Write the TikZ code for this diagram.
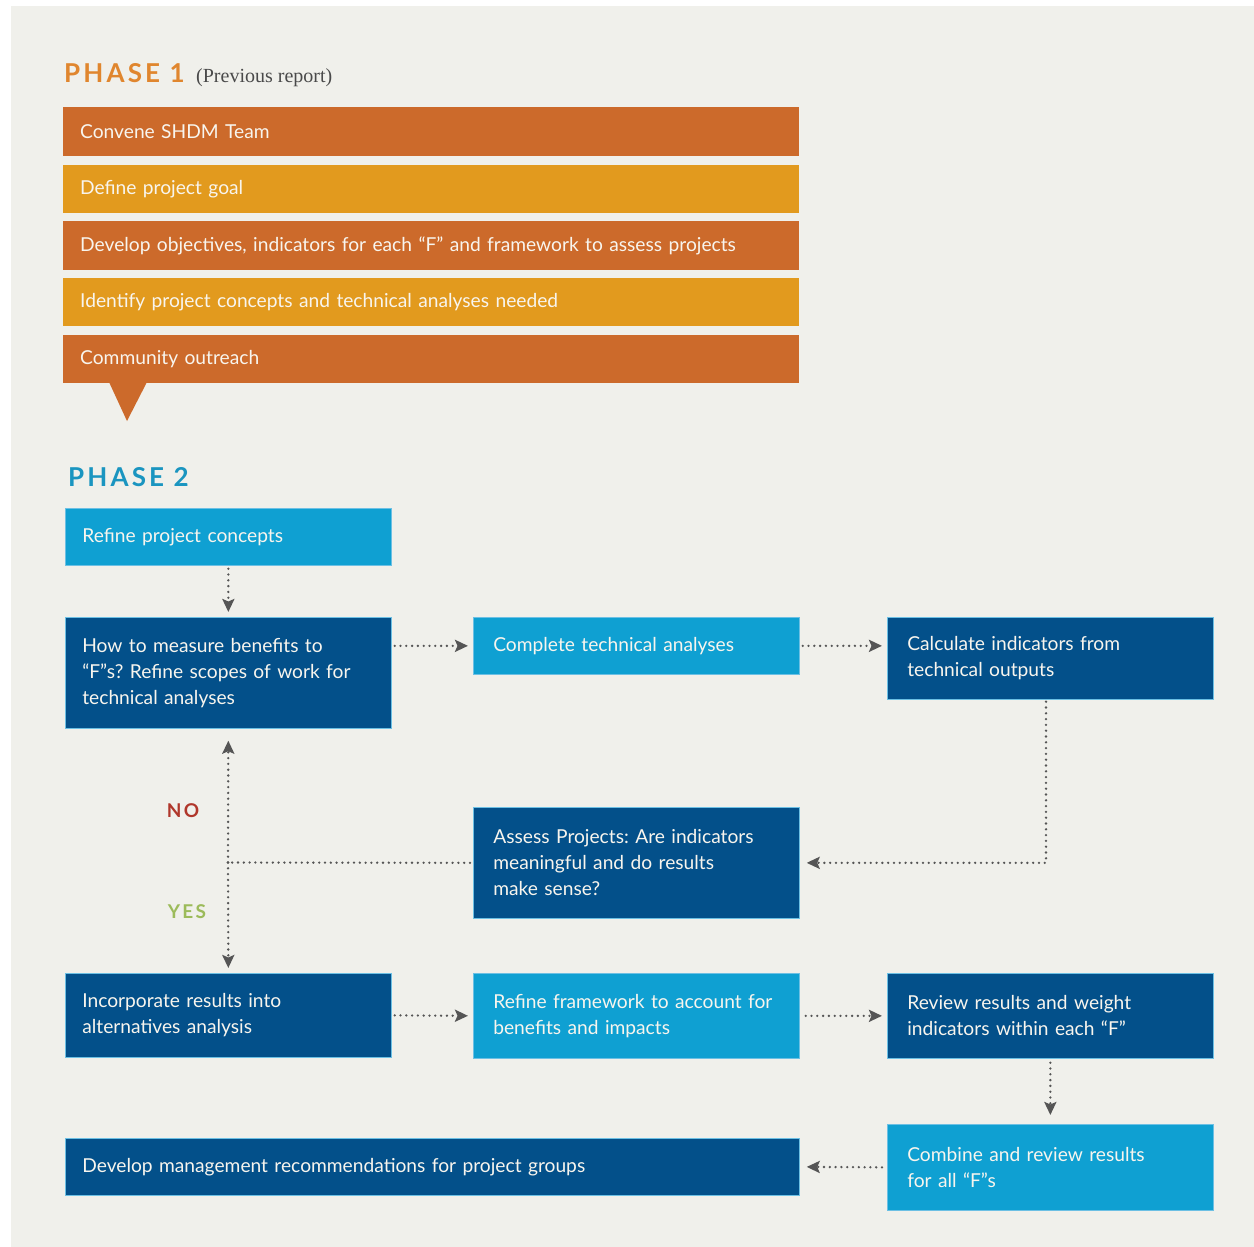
\documentclass[tikz,border=0pt]{standalone}
\usepackage{fontspec}
\setmainfont{Lato}
\newfontfamily\serifont{Liberation Serif}
\newfontfamily\phasefont{Lato}[LetterSpace=12]
\usetikzlibrary{arrows.meta,calc}
\definecolor{bg}{HTML}{F0F0EB}
\definecolor{dorange}{HTML}{CC6A2B}
\definecolor{yorange}{HTML}{E29A1E}
\definecolor{lblue}{HTML}{0FA0D2}
\definecolor{dblue}{HTML}{03508A}
\definecolor{edgeblue}{HTML}{6CC0E4}
\definecolor{ph1}{HTML}{E0862E}
\definecolor{ph2}{HTML}{1A95C0}
\definecolor{nored}{HTML}{B0372B}
\definecolor{yesgreen}{HTML}{9CBB5A}
\definecolor{agray}{HTML}{555555}
\definecolor{txtgray}{HTML}{4A4A4A}
\definecolor{boxtext}{HTML}{F8F5EE}
\tikzset{
  box/.style={rectangle, anchor=north west, inner xsep=17pt, inner ysep=0pt,
    align=left, text=boxtext, font=\frenchspacing\fontsize{19.2}{26}\selectfont},
  pone/.style={box, inner xsep=17pt},
  pdark/.style={box, fill=dblue, draw=edgeblue, line width=0.7pt},
  plight/.style={box, fill=lblue, draw=edgeblue, line width=0.7pt},
  wide/.style={inner xsep=20pt, text width=286},
  conn/.style={draw=agray, line width=2.6pt, dash pattern=on 0pt off 5.8pt, line cap=round},
  connarrow/.style={conn, -{Stealth[length=13pt,width=12pt,inset=2.5pt,fill=agray,line cap=butt]}},
  phase/.style={anchor=base west, inner sep=0pt, font=\phasefont\bfseries\fontsize{26}{30}\selectfont},
  answer/.style={inner sep=0pt, font=\phasefont\bfseries\fontsize{19}{22}\selectfont}
}
\begin{document}
\begin{tikzpicture}[x=1pt,y=-1pt]
\fill[white] (0,0) rectangle (1254,1247);
\fill[bg] (11,6) rectangle (1254,1247);
\useasboundingbox (0,0) rectangle (1254,1247);

% Phase 1
\node[phase, text=ph1] (p1) at (64,82) {PHASE 1};
\node[anchor=base west, inner sep=0pt, text=txtgray, font=\serifont\fontsize{20}{22}\selectfont] (prev) at (196,82) {(Previous report)};

\node[pone, fill=dorange, minimum width=736, text width=702, minimum height=49] (b1) at (63,107) {Convene SHDM Team};
\node[pone, fill=yorange, minimum width=736, text width=702, minimum height=48] (b2) at (63,165) {Define project goal};
\node[pone, fill=dorange, minimum width=736, text width=702, minimum height=49] (b3) at (63,221) {Develop objectives, indicators for each “F” and framework to assess projects};
\node[pone, fill=yorange, minimum width=736, text width=702, minimum height=48] (b4) at (63,278) {Identify project concepts and technical analyses needed};
\node[pone, fill=dorange, minimum width=736, text width=702, minimum height=48] (b5) at (63,335) {Community outreach};
\fill[dorange] (109,382) -- (147,382) -- (127,421) -- cycle;

% Phase 2
\node[phase, text=ph2] (p2) at (68,486) {PHASE 2};

\node[plight, minimum width=326, text width=292, minimum height=57] (ref) at (65,508) {Refine project concepts};
\node[pdark, minimum width=326, text width=292, minimum height=111] (how) at (65,617) {How to measure benefits to\\“F”s? Refine scopes of work for\\technical analyses};
\node[plight, minimum width=326, wide, minimum height=57] (cta) at (473,617) {Complete technical analyses};
\node[pdark, minimum width=326, wide, minimum height=82] (calc) at (887,617) {Calculate indicators from\\technical outputs};
\node[pdark, minimum width=326, wide, minimum height=111] (assess) at (473,807) {Assess Projects: Are indicators\\meaningful and do results\\make sense?};
\node[pdark, minimum width=326, text width=292, minimum height=84] (inc) at (65,973) {Incorporate results into\\alternatives analysis};
\node[plight, minimum width=326, wide, minimum height=85] (rfw) at (473,973) {Refine framework to account for\\benefits and impacts};
\node[pdark, minimum width=326, wide, minimum height=85] (rev) at (887,973) {Review results and weight\\indicators within each “F”};
\node[plight, minimum width=326, wide, minimum height=86] (comb) at (887,1124) {Combine and review results\\for all “F”s};
\node[pdark, minimum width=734, text width=700, minimum height=57] (dev) at (65,1138) {Develop management recommendations for project groups};

% answers
\node[answer, text=nored] (no) at (183,811) {NO};
\node[answer, text=yesgreen] (yes) at (187,912) {YES};

% connectors
\coordinate (J) at (228,862.5);
\draw[connarrow, shorten <=3pt, shorten >=5pt] (ref.south) -- (how.north);
\draw[connarrow, shorten <=3pt, shorten >=5pt] (how.east |- cta.west) -- (cta.west);
\draw[connarrow, shorten <=3pt, shorten >=5pt] (cta.east) -- (calc.west |- cta.east);
\draw[connarrow, shorten <=2pt, shorten >=7pt] (calc.south -| 1046,0) |- (assess.east);
\draw[conn, shorten <=3pt] (assess.west) -- (J);
\draw[connarrow, shorten >=12pt] (J) -- (how.south);
\draw[connarrow, shorten >=5pt] (J) -- (inc.north);
\draw[connarrow, shorten <=3pt, shorten >=5pt] (inc.east) -- (rfw.west);
\draw[connarrow, shorten <=6pt, shorten >=5pt] (rfw.east) -- (rev.west);
\draw[connarrow, shorten <=4pt, shorten >=9pt] (rev.south) -- (comb.north);
\draw[connarrow, shorten <=5pt, shorten >=7pt] (comb.west) -- (dev.east);
\end{tikzpicture}
\end{document}
